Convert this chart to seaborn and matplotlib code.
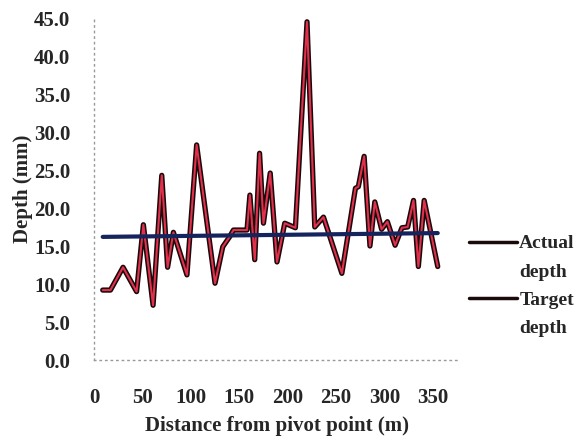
import matplotlib
matplotlib.use("Agg")
import matplotlib.pyplot as plt
from matplotlib.lines import Line2D
import seaborn as sns

# values
distance = [9, 17, 30, 44, 51, 61, 70, 76, 82, 96, 106, 125, 133, 140, 144, 158,
            161, 166, 171, 175, 182, 189, 197, 208, 220, 228, 237, 256, 270, 273,
            279, 285, 290, 297, 303, 311, 318, 324, 330, 335, 341, 355]
actual_depth = [9.2, 9.2, 12.2, 9.0, 17.8, 7.2, 24.3, 12.2, 16.8, 11.2, 28.3, 10.1,
                14.9, 16.2, 17.1, 17.1, 21.7, 13.2, 27.2, 18.0, 24.6, 12.9, 18.0,
                17.4, 44.5, 17.5, 18.8, 11.4, 22.6, 22.8, 26.8, 15.0, 20.8, 17.2,
                18.2, 15.1, 17.4, 17.5, 21.0, 12.3, 21.0, 12.3]
target_distance = [9, 355]
target_depth = [16.2, 16.7]

y_ticks = [0, 5, 10, 15, 20, 25, 30, 35, 40, 45]
x_ticks = [0, 50, 100, 150, 200, 250, 300, 350]

sns.set_theme(style="white")
plt.rcParams['font.family'] = ['Liberation Serif', 'DejaVu Serif']
plt.rcParams['font.weight'] = 'bold'

fig = plt.figure(figsize=(5.85, 4.46), dpi=100)
ax = fig.add_axes([94 / 585, 86 / 446, 366 / 585, 342 / 446])

# actual depth: dark outline with red core, like the scanned original
sns.lineplot(x=distance, y=actual_depth, color='#1a0a0c', linewidth=3.8,
             estimator=None, sort=False, ax=ax, zorder=3)
sns.lineplot(x=distance, y=actual_depth, color='#e0304c', linewidth=1.5,
             estimator=None, sort=False, ax=ax, zorder=4)
sns.lineplot(x=target_distance, y=target_depth, color='#16245e', linewidth=3.0,
             estimator=None, sort=False, ax=ax, zorder=5)

ax.set_xlim(0, 378)
ax.set_ylim(0, 45)
ax.set_xticks(x_ticks)
ax.set_yticks(y_ticks)
ax.set_yticklabels([f'{v:.1f}' for v in y_ticks])
ax.tick_params(axis='y', length=3, width=1.5, color='#777777', pad=14, labelsize=15)
ax.tick_params(axis='x', length=0, pad=20, labelsize=15)
ax.grid(False)
for side in ['top', 'right']:
    ax.spines[side].set_visible(False)
for side in ['left', 'bottom']:
    ax.spines[side].set_color('#999999')
    ax.spines[side].set_linestyle((0, (1, 3)))
    ax.spines[side].set_linewidth(1.0)

ax.set_xlabel('Distance from pivot point (m)', fontsize=15, fontweight='bold', labelpad=6)
ax.set_ylabel('Depth (mm)', fontsize=15, fontweight='bold', labelpad=1)

handles = [Line2D([], [], color='#1a0a0c', linewidth=2.5),
           Line2D([], [], color='none'),
           Line2D([], [], color='#1a0a0c', linewidth=2.5),
           Line2D([], [], color='none')]
fig.legend(handles, ['Actual', 'depth', 'Target', 'depth'],
           loc='upper left', bbox_to_anchor=(459 / 585, 1 - 225 / 446),
           frameon=False, borderpad=0, handlelength=2.5, handletextpad=0.1,
           labelspacing=0.55, prop=dict(family='Liberation Serif', weight='bold', size=14))

plt.savefig('out.png', dpi=100)
